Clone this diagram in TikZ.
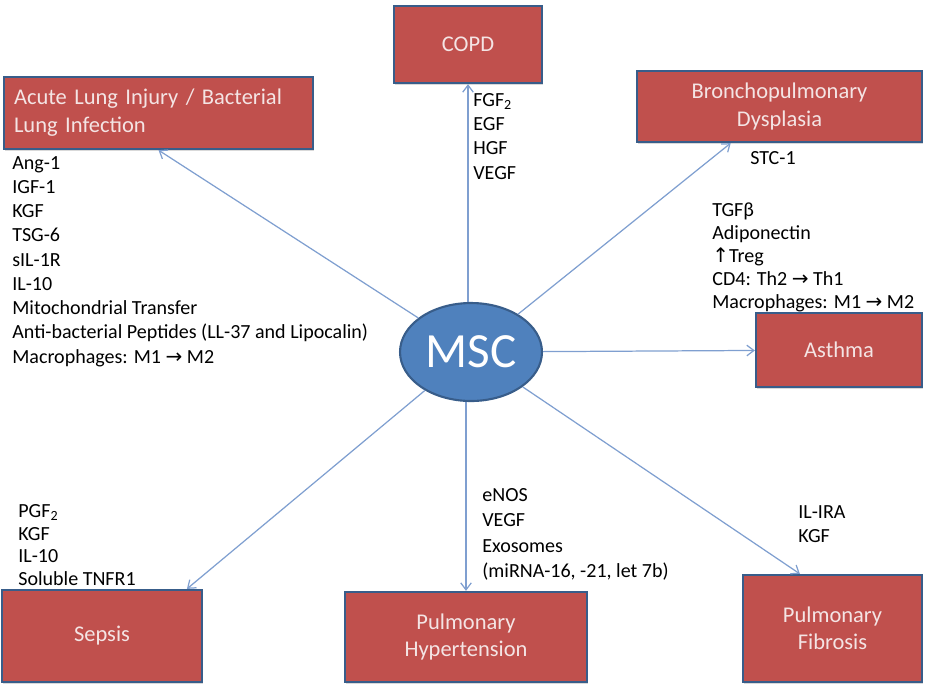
\documentclass[tikz,border=0pt]{standalone}
\usepackage{fontspec}
\setmainfont{Carlito}
\newfontfamily\symb{DejaVu Sans}
\usepackage{xcolor}
\usetikzlibrary{arrows.meta,positioning,calc,shadows,shapes.geometric}

\definecolor{boxred}{HTML}{C0504D}
\definecolor{edgeblue}{HTML}{385D8A}
\definecolor{cellblue}{HTML}{4F81BD}
\definecolor{linkblue}{HTML}{7F9FD0}
\definecolor{boxtext}{HTML}{F4E4E4}

\newcommand{\goesto}{{\symb →}}
\newcommand{\upreg}{{\symb ↑}}

\begin{document}
\begin{tikzpicture}[
  x=0.02cm, y=-0.02cm,
  box/.style={draw=edgeblue, line width=1.3pt, fill=boxred, text=boxtext,
              align=center, inner sep=0pt,
              font=\fontsize{12.8}{15.5}\selectfont,
              drop shadow={opacity=0.3, shadow xshift=0.8pt, shadow yshift=-1.2pt}},
  cell/.style={ellipse, draw=edgeblue, line width=1.2pt, fill=cellblue,
               text=white, font=\fontsize{28}{30}\selectfont,
               minimum width=2.84cm, minimum height=1.96cm, inner sep=0pt},
  lbl/.style={align=left, inner sep=0pt, font=\fontsize{11.4}{13.8}\selectfont},
  arr/.style={-{Straight Barb[length=4pt,width=6pt]}, linkblue, line width=0.7pt}
]
\useasboundingbox (0,0) rectangle (925,684);

% disease boxes
\node[box, minimum width=6.18cm, minimum height=1.44cm, text width=5.78cm, align=left,
      font=\fontsize{12.8}{16}\selectfont]
  (ali) at (158.5,113) {Acute Lung Injury / Bacterial\\Lung Infection};
\node[box, minimum width=2.96cm, minimum height=1.54cm] (copd) at (468,44.5) {COPD};
\node[box, minimum width=5.7cm, minimum height=1.42cm] (bpd) at (779.5,106.5) {Bronchopulmonary\\Dysplasia};
\node[box, minimum width=3.32cm, minimum height=1.48cm] (asthma) at (839,350) {Asthma};
\node[box, minimum width=4.0cm, minimum height=1.84cm] (sepsis) at (102,636) {Sepsis};
\node[box, minimum width=4.84cm, minimum height=1.8cm] (ph) at (466,637) {Pulmonary\\Hypertension};
\node[box, minimum width=3.58cm, minimum height=2.14cm] (pf) at (832.5,628.5) {Pulmonary\\Fibrosis};

% centre
\node[cell] (msc) at (471,352) {MSC};

% factor lists
\node[lbl, anchor=north west] (aliF) at (12,156) {Ang-1\\IGF-1\\KGF\\TSG-6\\sIL-1R\\IL-10\\Mitochondrial Transfer\\Anti-bacterial Peptides (LL-37 and Lipocalin)\\Macrophages: M1 \goesto{} M2};
\node[lbl, anchor=north west] (copdF) at (473,93) {FGF\textsubscript{2}\\EGF\\HGF\\VEGF};
\node[lbl, anchor=north] (bpdF) at (773,151) {STC-1};
\node[lbl, anchor=north west, font=\fontsize{11.4}{13.2}\selectfont]
  (asthmaF) at (712,202) {TGFβ\\Adiponectin\\\upreg Treg\\CD4: Th2 \goesto{} Th1\\Macrophages: M1 \goesto{} M2};
\node[lbl, anchor=north west, font=\fontsize{11.4}{12.9}\selectfont]
  (sepsisF) at (18,504) {PGF\textsubscript{2}\\KGF\\IL-10\\Soluble TNFR1};
\node[lbl, anchor=north west, font=\fontsize{11.4}{14.5}\selectfont]
  (phF) at (482,488) {eNOS\\VEGF\\Exosomes\\(miRNA-16, -21, let 7b)};
\node[lbl, anchor=north west] (pfF) at (798,505) {IL-IRA\\KGF};

% links
\draw[arr] (msc) -- (ali.south);
\draw[arr] (msc.north -| copd.south) -- (copd.south);
\draw[arr] (msc) -- ($(bpd.south west)!0.33!(bpd.south east)$);
\draw[arr] (msc) -- (asthma);
\draw[arr] (msc) -- ($(sepsis.north west)!0.92!(sepsis.north east)$);
\draw[arr] (msc.south -| ph.north) -- (ph.north);
\draw[arr] (msc) -- ($(pf.north west)!0.32!(pf.north east)$);
\end{tikzpicture}
\end{document}
